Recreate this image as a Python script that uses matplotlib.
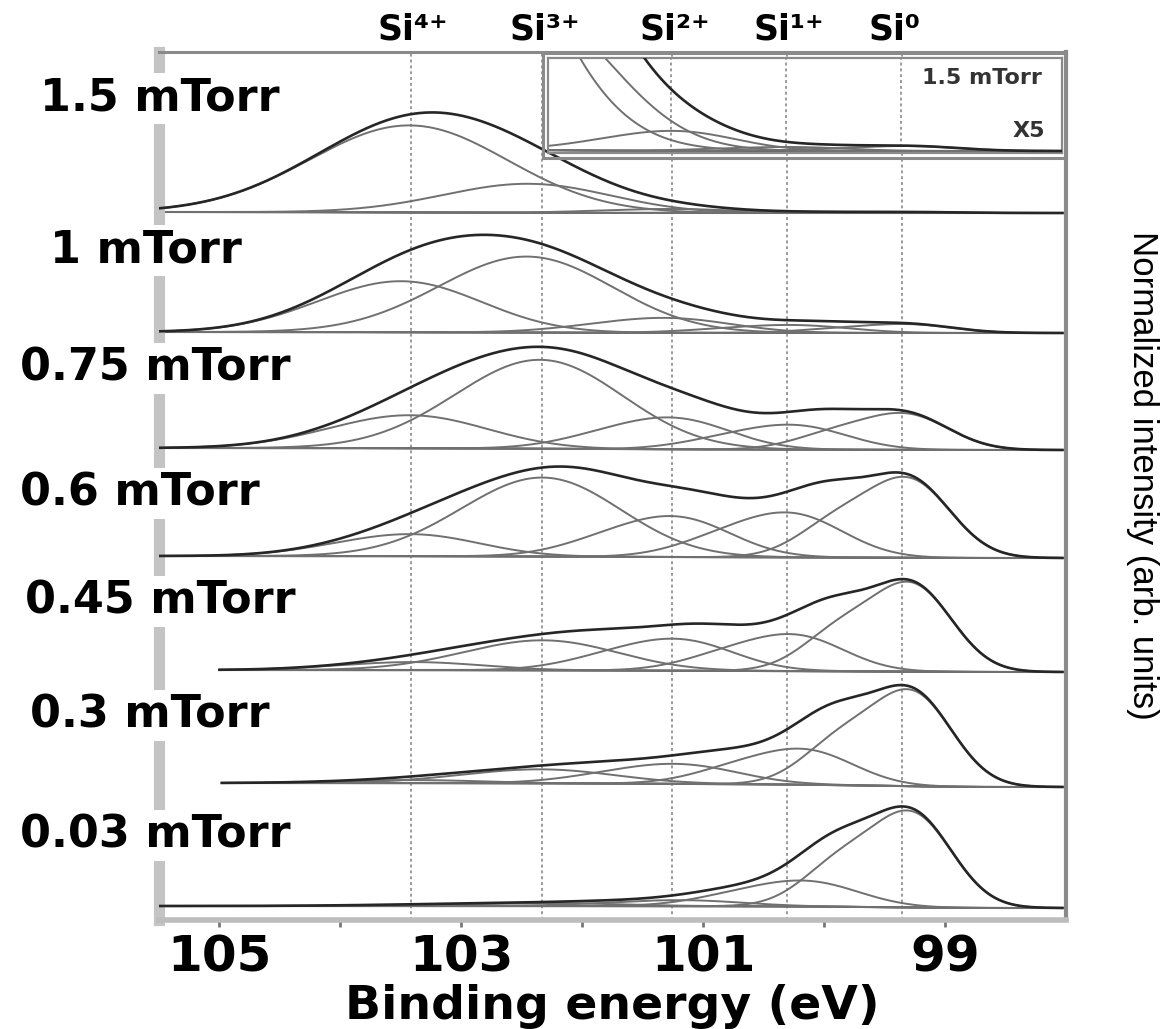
import numpy as np
import matplotlib.pyplot as plt
from matplotlib.patches import Rectangle

plt.rcParams['font.family'] = 'DejaVu Sans'

# Data: Si 2p spectra, one per pressure, five fitted components each
pressures = ['1.5 mTorr', '1 mTorr', '0.75 mTorr', '0.6 mTorr',
             '0.45 mTorr', '0.3 mTorr', '0.03 mTorr']
states = ['Si⁴⁺', 'Si³⁺', 'Si²⁺', 'Si¹⁺', 'Si⁰']
state_energy = [103.42, 102.33, 101.26, 100.31, 99.36]

# peak positions (eV), heights (normalized) and widths (eV) of Si4+ .. Si0
positions = [
    [103.43, 102.45, 101.26, 100.30, 99.33],
    [103.50, 102.46, 101.33, 100.30, 99.36],
    [103.43, 102.35, 101.30, 100.30, 99.38],
    [103.43, 102.33, 101.28, 100.33, 99.35],
    [103.40, 102.33, 101.26, 100.30, 99.32],
    [103.40, 102.35, 101.25, 100.22, 99.32],
    [103.40, 102.33, 101.20, 100.20, 99.32],
]
heights = [
    [0.87, 0.29, 0.04, 0.008, 0.010],
    [0.51, 0.76, 0.15, 0.08, 0.09],
    [0.33, 0.89, 0.32, 0.25, 0.37],
    [0.22, 0.79, 0.41, 0.45, 0.81],
    [0.08, 0.30, 0.32, 0.37, 0.90],
    [0.03, 0.14, 0.20, 0.36, 0.97],
    [0.01, 0.03, 0.06, 0.26, 0.97],
]
widths = [
    [0.76, 0.62, 0.45, 0.40, 0.37],
    [0.60, 0.65, 0.48, 0.42, 0.35],
    [0.57, 0.62, 0.43, 0.40, 0.34],
    [0.50, 0.58, 0.42, 0.40, 0.33],
    [0.50, 0.55, 0.42, 0.38, 0.32],
    [0.50, 0.55, 0.45, 0.38, 0.32],
    [0.50, 0.55, 0.45, 0.40, 0.32],
]
background_step = [0.01, 0.01, 0.02, 0.02, 0.02, 0.04, 0.02]
scan_start = [105.5, 105.5, 105.5, 105.5, 105.0, 104.98, 105.5]
scan_end = 98.03

# layout (pixels of the 1173x1029 figure)
W, H = 1173, 1029
baseline_px = [213, 333, 450, 558, 672, 787, 908]
label_px = [(40, 98), (50, 250), (20, 368), (20, 493), (25, 601), (30, 715), (20, 835)]

TOTAL = '#262626'
COMP = '#707070'
BASE = '#505050'
GRID = '#9a9a9a'


def doublet(e, c, h, s):
    # Si 2p3/2 + 2p1/2 pair (0.6 eV, 2:1), peak put at c with height h
    d = np.linspace(-2, 3, 2001)
    prof = np.exp(-d**2 / (2 * s**2)) + 0.5 * np.exp(-(d - 0.6)**2 / (2 * s**2))
    shift = d[np.argmax(prof)]
    x = e - c + shift
    p = np.exp(-x**2 / (2 * s**2)) + 0.5 * np.exp(-(x - 0.6)**2 / (2 * s**2))
    return h * p / prof.max()


def spectrum(i):
    e = np.linspace(scan_start[i], scan_end, 1200)
    comps = [doublet(e, positions[i][k], heights[i][k], widths[i][k]) for k in range(5)]
    peaks = np.sum(comps, axis=0)
    bg = background_step[i] * np.cumsum(peaks[::-1])[::-1] / peaks.sum()
    return e, bg, comps, peaks


def draw(axis, i, off):
    e, bg, comps, peaks = spectrum(i)
    axis.plot(e, bg + off, color=BASE, lw=1.5, zorder=2)
    for c in comps:
        if c.max() > 0.003:
            axis.plot(e, bg + c + off, color=COMP, lw=1.4, zorder=2)
    axis.plot(e, bg + peaks + off, color=TOTAL, lw=1.9, zorder=3)


fig = plt.figure(figsize=(W / 100, H / 100), dpi=100)
ax = fig.add_axes([159 / W, 1 - 920 / H, (1066 - 159) / W, (920 - 52) / H])
ax.set_xlim(105.5, 98.0)
ax.set_ylim(0, 8.68)

for x in state_energy:
    ax.axvline(x, color=GRID, lw=1.4, ls=(0, (1.5, 1.5)), zorder=0.5)

for i in range(len(pressures)):
    draw(ax, i, (920 - baseline_px[i]) / 100)

for x, s in zip(state_energy, states):
    ax.text(x + 0.27, 1.026, s, transform=ax.get_xaxis_transform(),
            ha='left', va='center', fontsize=25, fontweight='bold')

ax.set_xticks([105, 103, 101, 99])
ax.set_xticks([104, 102, 100], minor=True)
ax.set_yticks([])
ax.tick_params(axis='x', which='both', direction='out', length=5, width=2,
               color='#777777', labelsize=36, pad=5)
for t in ax.get_xticklabels():
    t.set_fontweight('bold')

ax.spines['top'].set_color('#8a8a8a')
ax.spines['top'].set_linewidth(2.2)
ax.spines['right'].set_color('#8a8a8a')
ax.spines['right'].set_linewidth(3)
ax.spines['bottom'].set_color('#bdbdbd')
ax.spines['bottom'].set_linewidth(4)
ax.spines['left'].set_color('#c4c4c4')
ax.spines['left'].set_linewidth(8)

fig.text(612 / W, 1 - 1019 / H, 'Binding energy (eV)', ha='center', va='baseline',
         fontsize=34, fontweight='bold')
fig.text(1143 / W, 1 - 475 / H, 'Normalized intensity (arb. units)', rotation=270,
         ha='center', va='center', fontsize=25, family='Liberation Sans')

for (x, y), s in zip(label_px, pressures):
    fig.text(x / W, 1 - y / H, s, ha='left', va='center', fontsize=32,
             fontweight='bold', zorder=5,
             bbox=dict(fc='white', ec='none', pad=3))

# inset: 1.5 mTorr tail magnified x5
axi = fig.add_axes([548 / W, 1 - 153 / H, (1062 - 548) / W, (153 - 58) / H])
axi.set_xlim(102.28, 98.03)
axi.set_ylim(-0.004, 0.186)
for x in state_energy:
    axi.axvline(x, color=GRID, lw=1.4, ls=(0, (1.5, 1.5)), zorder=0.5)
draw(axi, 0, 0)
axi.set_xticks([])
axi.set_yticks([])
for sp in axi.spines.values():
    sp.set_color('#8a8a8a')
    sp.set_linewidth(1.6)
axi.text(0.961, 0.79, '1.5 mTorr', transform=axi.transAxes, ha='right', va='center',
         fontsize=16, fontweight='bold', color='#333333',
         bbox=dict(fc='white', ec='none', pad=4))
axi.text(0.967, 0.23, 'X5', transform=axi.transAxes, ha='right', va='center',
         fontsize=16, fontweight='bold', color='#333333')
fig.add_artist(Rectangle((543 / W, 1 - 158 / H), (1066 - 543) / W, (158 - 53) / H,
                         transform=fig.transFigure, fill=False, ec='#8a8a8a', lw=2.2))

fig.savefig('out.png', dpi=100)
